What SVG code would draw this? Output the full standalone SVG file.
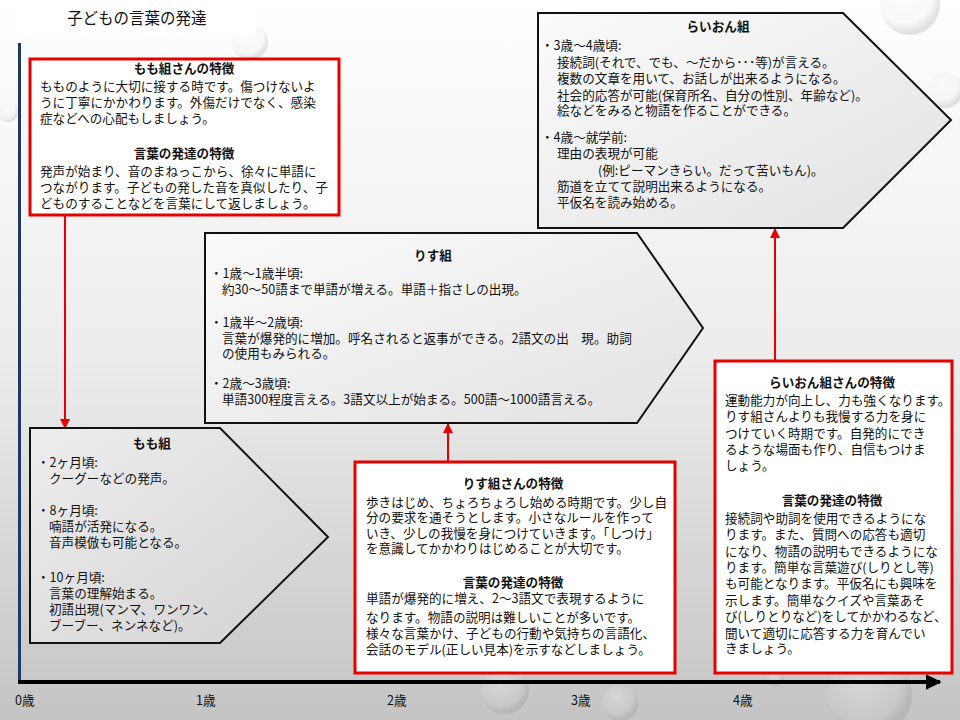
<svg xmlns="http://www.w3.org/2000/svg" width="960" height="720" viewBox="0 0 960 720">
<style>
.t{font-family:"Noto Sans CJK JP","Noto Sans CJK SC",sans-serif;font-size:12.6px;fill:#111}
.h{font-weight:bold;text-anchor:middle}
.box{fill:#fff;stroke:#e60000;stroke-width:3}
.pent{stroke:#111;stroke-width:2}
.con{stroke:#e60000;stroke-width:2;fill:none}
</style>
<defs>
<linearGradient id="bg" x1="0" y1="0" x2="0" y2="1">
<stop offset="0" stop-color="#ffffff"/>
<stop offset="0.5" stop-color="#ececec"/>
<stop offset="1" stop-color="#c4c4c4"/>
</linearGradient>
<linearGradient id="pg" x1="0" y1="0" x2="1" y2="1">
<stop offset="0" stop-color="#fbfbfb"/>
<stop offset="1" stop-color="#e2e2e2"/>
</linearGradient>
<linearGradient id="pg2" x1="0" y1="0" x2="1" y2="1">
<stop offset="0" stop-color="#eeeeee"/>
<stop offset="1" stop-color="#d2d2d2"/>
</linearGradient>
<radialGradient id="drop" cx="0.4" cy="0.35" r="0.6">
<stop offset="0" stop-color="#ffffff" stop-opacity="0.6"/>
<stop offset="0.75" stop-color="#e0e0e0" stop-opacity="0.3"/>
<stop offset="1" stop-color="#888" stop-opacity="0.45"/>
</radialGradient>
<marker id="ah" viewBox="0 0 10 10" refX="9" refY="5" markerWidth="5" markerHeight="5" orient="auto">
<path d="M0,0 L10,5 L0,10 z" fill="#e60000"/>
</marker>
<marker id="ak" viewBox="0 0 10 10" refX="9" refY="5" markerWidth="4" markerHeight="4" orient="auto">
<path d="M0,0 L10,5 L0,10 z" fill="#000"/>
</marker>
</defs>
<rect width="960" height="720" fill="url(#bg)"/>
<g id="droplets" opacity="0.5">
<circle cx="870" cy="695" r="42" fill="url(#drop)"/>
<circle cx="620" cy="703" r="18" fill="url(#drop)"/>
<circle cx="505" cy="690" r="24" fill="url(#drop)"/>
<circle cx="775" cy="678" r="8" fill="url(#drop)"/>
<circle cx="945" cy="90" r="18" fill="url(#drop)"/>
<circle cx="910" cy="5" r="30" fill="url(#drop)"/>
<circle cx="250" cy="42" r="18" fill="url(#drop)"/>
<circle cx="8" cy="112" r="10" fill="url(#drop)"/>
</g>
<g id="title">
<rect x="20" y="3" width="236" height="32" fill="#fff"/>
<text class="t" x="67" y="24" style="font-size:15.5px">子どもの言葉の発達</text>
</g>
<g id="axes">
<line x1="19.5" y1="43" x2="19.5" y2="682" stroke="#1f3864" stroke-width="3"/>
<line x1="18" y1="682" x2="940" y2="682" stroke="#000" stroke-width="4" marker-end="url(#ak)"/>
<text class="t" x="15" y="705">0歳</text>
<text class="t" x="196" y="705">1歳</text>
<text class="t" x="387" y="705">2歳</text>
<text class="t" x="571" y="705">3歳</text>
<text class="t" x="733" y="705">4歳</text>
</g>
<g id="connectors">
<line class="con" x1="65" y1="216" x2="65" y2="428" marker-end="url(#ah)"/>
<line class="con" x1="448" y1="461" x2="448" y2="424" marker-end="url(#ah)"/>
<line class="con" x1="775" y1="360" x2="775" y2="229" marker-end="url(#ah)"/>
</g>
<g id="momo-features">
<rect class="box" x="30" y="59" width="309" height="156"/>
<text class="t h" x="184" y="73">もも組さんの特徴</text>
<text class="t" x="40" y="91">もものように大切に接する時です。傷つけないよ</text>
<text class="t" x="40" y="107">うに丁寧にかかわります。外傷だけでなく、感染</text>
<text class="t" x="40" y="123">症などへの心配もしましょう。</text>
<text class="t h" x="184" y="158">言葉の発達の特徴</text>
<text class="t" x="40" y="176">発声が始まり、音のまねっこから、徐々に単語に</text>
<text class="t" x="40" y="192">つながります。子どもの発した音を真似したり、子</text>
<text class="t" x="40" y="208">どものすることなどを言葉にして返しましょう。</text>
</g>
<g id="momo">
<polygon class="pent" points="30,428 220,428 328,537 220,643 30,643" fill="url(#pg2)"/>
<text class="t h" x="152" y="448">もも組</text>
<text class="t" x="37" y="467">・2ヶ月頃:</text>
<text class="t" x="49" y="483">クーグーなどの発声。</text>
<text class="t" x="37" y="515">・8ヶ月頃:</text>
<text class="t" x="49" y="531">喃語が活発になる。</text>
<text class="t" x="49" y="547">音声模倣も可能となる。</text>
<text class="t" x="37" y="582">・10ヶ月頃:</text>
<text class="t" x="49" y="598">言葉の理解始まる。</text>
<text class="t" x="49" y="614">初語出現(マンマ、ワンワン、</text>
<text class="t" x="49" y="630">ブーブー、ネンネなど)。</text>
</g>
<g id="risu">
<polygon class="pent" points="205,233 637,233 703,328 637,423 205,423" fill="url(#pg)"/>
<text class="t h" x="433" y="260">りす組</text>
<text class="t" x="210" y="278">・1歳～1歳半頃:</text>
<text class="t" x="222" y="294">約30～50語まで単語が増える。単語＋指さしの出現。</text>
<text class="t" x="210" y="327">・1歳半～2歳頃:</text>
<text class="t" x="222" y="343">言葉が爆発的に増加。呼名されると返事ができる。2語文の出　現。助詞</text>
<text class="t" x="222" y="358">の使用もみられる。</text>
<text class="t" x="210" y="388">・2歳～3歳頃:</text>
<text class="t" x="222" y="404">単語300程度言える。3語文以上が始まる。500語～1000語言える。</text>
</g>
<g id="risu-features">
<rect class="box" x="355" y="462" width="320" height="211"/>
<text class="t h" x="513" y="488">りす組さんの特徴</text>
<text class="t" x="366" y="507">歩きはじめ、ちょろちょろし始める時期です。少し自</text>
<text class="t" x="366" y="522">分の要求を通そうとします。小さなルールを作って</text>
<text class="t" x="366" y="538">いき、少しの我慢を身につけていきます。「しつけ」</text>
<text class="t" x="366" y="553">を意識してかかわりはじめることが大切です。</text>
<text class="t h" x="513" y="587">言葉の発達の特徴</text>
<text class="t" x="366" y="603">単語が爆発的に増え、2～3語文で表現するように</text>
<text class="t" x="366" y="622">なります。物語の説明は難しいことが多いです。</text>
<text class="t" x="366" y="638">様々な言葉かけ、子どもの行動や気持ちの言語化、</text>
<text class="t" x="366" y="654">会話のモデル(正しい見本)を示すなどしましょう。</text>
</g>
<g id="raion">
<polygon class="pent" points="538,13 843,13 951,120 843,228 538,228" fill="url(#pg)"/>
<text class="t h" x="718" y="31">らいおん組</text>
<text class="t" x="541" y="50">・3歳～4歳頃:</text>
<text class="t" x="557" y="67">接続詞(それで、でも、～だから･･･等)が言える。</text>
<text class="t" x="557" y="83">複数の文章を用いて、お話しが出来るようになる。</text>
<text class="t" x="557" y="100">社会的応答が可能(保育所名、自分の性別、年齢など)。</text>
<text class="t" x="557" y="115">絵などをみると物語を作ることができる。</text>
<text class="t" x="541" y="142">・4歳～就学前:</text>
<text class="t" x="557" y="158">理由の表現が可能</text>
<text class="t" x="598" y="175">(例:ピーマンきらい。だって苦いもん)。</text>
<text class="t" x="557" y="191">筋道を立てて説明出来るようになる。</text>
<text class="t" x="557" y="207">平仮名を読み始める。</text>
</g>
<g id="raion-features">
<rect class="box" x="715" y="361" width="237" height="312"/>
<text class="t h" x="832" y="387">らいおん組さんの特徴</text>
<text class="t" x="725" y="405">運動能力が向上し、力も強くなります。</text>
<text class="t" x="725" y="421">りす組さんよりも我慢する力を身に</text>
<text class="t" x="725" y="438">つけていく時期です。自発的にでき</text>
<text class="t" x="725" y="454">るような場面も作り、自信もつけま</text>
<text class="t" x="725" y="470">しょう。</text>
<text class="t h" x="832" y="505">言葉の発達の特徴</text>
<text class="t" x="725" y="523">接続詞や助詞を使用できるようにな</text>
<text class="t" x="725" y="539">ります。また、質問への応答も適切</text>
<text class="t" x="725" y="556">になり、物語の説明もできるようにな</text>
<text class="t" x="725" y="572">ります。簡単な言葉遊び(しりとし等)</text>
<text class="t" x="725" y="588">も可能となります。平仮名にも興味を</text>
<text class="t" x="725" y="605">示します。簡単なクイズや言葉あそ</text>
<text class="t" x="725" y="621">び(しりとりなど)をしてかかわるなど、</text>
<text class="t" x="725" y="638">聞いて適切に応答する力を育んでい</text>
<text class="t" x="725" y="653">きましょう。</text>
</g>
</svg>
